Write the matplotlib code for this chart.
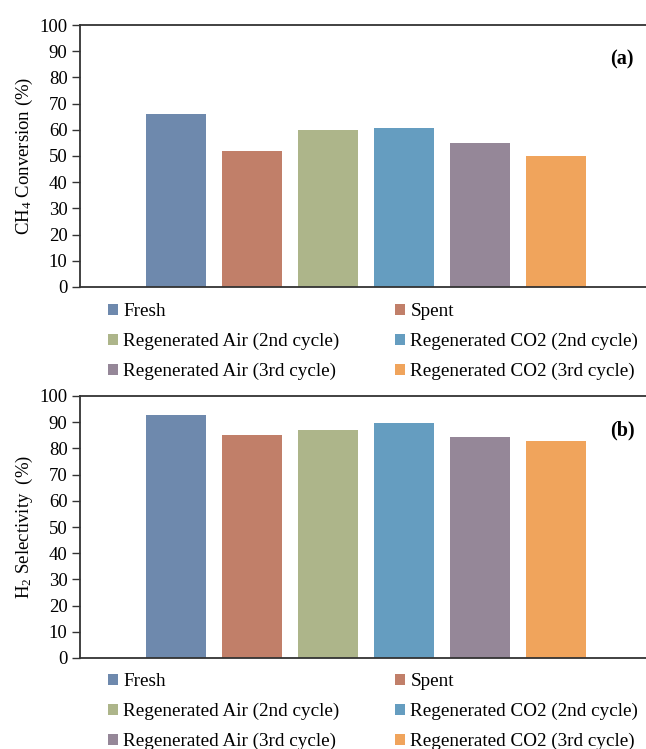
import matplotlib.pyplot as plt

# ---------------- Data ----------------
labels = ["Fresh", "Spent", "Regenerated Air (2nd cycle)", "Regenerated CO2 (2nd cycle)",
          "Regenerated Air (3rd cycle)", "Regenerated CO2 (3rd cycle)"]
ch4_conv = [66.0, 52.0, 60.0, 60.7, 55.0, 50.0]
h2_sel = [92.7, 85.1, 87.0, 89.7, 84.4, 82.8]
colors = ["#6E89AD", "#C17F69", "#ADB58A", "#659DC0", "#958798", "#F0A45C"]

plt.rcParams["font.family"] = ["Liberation Serif", "DejaVu Serif"]
plt.rcParams["mathtext.fontset"] = "custom"
plt.rcParams["mathtext.rm"] = "Liberation Serif"
plt.rcParams["mathtext.it"] = "Liberation Serif:italic"

W, H = 646, 749
LEFT = 80
fig = plt.figure(figsize=(W / 100, H / 100), dpi=100)

def panel(top_px, bottom_px, values, ylabel, tag, legend_top_px):
    ax = fig.add_axes([LEFT / W, 1 - bottom_px / H, 1 - LEFT / W, (bottom_px - top_px) / H])
    x = list(range(len(values)))
    bars = ax.bar(x, values, width=0.79, color=colors)
    ax.set_xlim(-1.26, 6.18)
    ax.set_ylim(0, 100)
    ax.set_yticks(range(0, 101, 10))
    ax.set_xticks([])
    ax.spines["right"].set_visible(False)
    for s in ["top", "bottom", "left"]:
        ax.spines[s].set_color("#333333")
        ax.spines[s].set_linewidth(1.3)
    ax.tick_params(axis="y", labelsize=13.5, length=6, width=1, color="#333333", pad=3)
    ax.set_ylabel(ylabel, fontsize=13.5, labelpad=3)
    ax.text((610 - LEFT) / (W - LEFT), 0.87, tag, transform=ax.transAxes,
            fontsize=14.5, fontweight="bold", ha="left", va="center")
    order = [0, 2, 4, 1, 3, 5]
    fig.legend([bars[i] for i in order], [labels[i] for i in order], ncol=2,
               loc="upper left", bbox_to_anchor=(108 / W, 1 - legend_top_px / H),
               frameon=False, fontsize=13.8, handlelength=0.5, handleheight=0.5,
               handletextpad=0.3, labelspacing=0.66, columnspacing=2.9,
               borderpad=0, borderaxespad=0)
    return ax

panel(25, 287, ch4_conv, "CH$_4$ Conversion (%)", "(a)", 303)
panel(396, 658, h2_sel, "H$_2$ Selectivity  (%)", "(b)", 673)

fig.savefig("out.png", dpi=100)
